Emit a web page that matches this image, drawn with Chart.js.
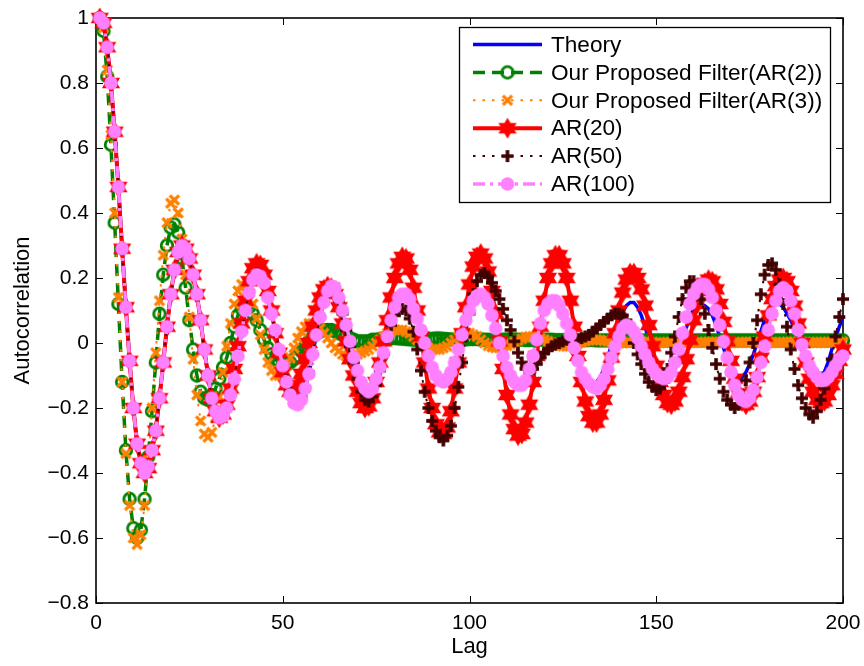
<!DOCTYPE html>
<html>
<head>
<meta charset="utf-8">
<title>Autocorrelation vs Lag</title>
<script src="https://cdn.jsdelivr.net/npm/chart.js"></script>
<style>
  html, body { margin: 0; padding: 0; background: #fff; }
  #wrap { width: 864px; height: 666px; }
</style>
</head>
<body>
<div id="wrap"><canvas id="acf" width="864" height="666"></canvas></div>
<script>
// lag index 1..200 (x positions of every sample)
const lags = [];
for (let i = 1; i <= 200; i++) lags.push(i);

const xTicks = [0, 50, 100, 150, 200];
const yTicks = [-0.8, -0.6, -0.4, -0.2, 0, 0.2, 0.4, 0.6, 0.8, 1];

const legendLabels = ['Theory', 'Our Proposed Filter(AR(2))', 'Our Proposed Filter(AR(3))',
                      'AR(20)', 'AR(50)', 'AR(100)'];

// values, lag 1..200
const theory = [
  1.0, 0.985, 0.91, 0.80, 0.65, 0.48, 0.29, 0.11, -0.055, -0.20,
  -0.31, -0.37, -0.40, -0.38, -0.33, -0.27, -0.17, -0.06, 0.05, 0.15,
  0.225, 0.28, 0.30, 0.29, 0.26, 0.21, 0.15, 0.07, -0.02, -0.10,
  -0.17, -0.21, -0.23, -0.225, -0.20, -0.16, -0.11, -0.04, 0.035, 0.10,
  0.155, 0.195, 0.21, 0.205, 0.185, 0.14, 0.09, 0.04, -0.02, -0.07,
  -0.12, -0.16, -0.185, -0.19, -0.175, -0.14, -0.095, -0.035, 0.025, 0.08,
  0.125, 0.16, 0.175, 0.17, 0.14, 0.10, 0.055, 0.005, -0.045, -0.085,
  -0.12, -0.14, -0.15, -0.14, -0.11, -0.075, -0.03, 0.02, 0.07, 0.11,
  0.14, 0.15, 0.15, 0.135, 0.105, 0.075, 0.04, 0.0, -0.04, -0.075,
  -0.10, -0.115, -0.12, -0.11, -0.09, -0.06, -0.02, 0.025, 0.07, 0.10,
  0.13, 0.145, 0.15, 0.14, 0.12, 0.085, 0.045, 0.0, -0.04, -0.075,
  -0.10, -0.12, -0.13, -0.13, -0.115, -0.08, -0.04, 0.01, 0.06, 0.10,
  0.12, 0.13, 0.13, 0.115, 0.09, 0.06, 0.025, -0.015, -0.055, -0.09,
  -0.11, -0.12, -0.125, -0.12, -0.105, -0.08, -0.045, -0.005, 0.035, 0.07,
  0.095, 0.115, 0.125, 0.125, 0.11, 0.085, 0.05, 0.01, -0.03, -0.065,
  -0.09, -0.105, -0.105, -0.095, -0.08, -0.05, -0.005, 0.045, 0.08, 0.105,
  0.115, 0.12, 0.115, 0.105, 0.085, 0.055, 0.02, -0.015, -0.05, -0.075,
  -0.095, -0.105, -0.105, -0.09, -0.065, -0.035, 0.0, 0.035, 0.07, 0.095,
  0.11, 0.12, 0.12, 0.11, 0.09, 0.07, 0.045, 0.015, -0.02, -0.045,
  -0.065, -0.08, -0.09, -0.095, -0.09, -0.06, -0.02, 0.015, 0.05, 0.08
];

const filterAR2 = [
  1.0, 0.96, 0.82, 0.61, 0.37, 0.12, -0.12, -0.33, -0.48, -0.57,
  -0.60, -0.575, -0.48, -0.35, -0.21, -0.06, 0.09, 0.21, 0.30, 0.355,
  0.365, 0.34, 0.26, 0.17, 0.07, -0.02, -0.10, -0.15, -0.17, -0.175,
  -0.16, -0.14, -0.11, -0.075, -0.045, 0.0, 0.05, 0.085, 0.105, 0.115,
  0.11, 0.09, 0.07, 0.04, 0.01, -0.015, -0.035, -0.05, -0.06, -0.065,
  -0.065, -0.06, -0.05, -0.04, -0.025, -0.01, 0.005, 0.02, 0.03, 0.035,
  0.04, 0.04, 0.04, 0.035, 0.03, 0.025, 0.02, 0.015, 0.01, 0.005,
  0.005, 0.005, 0.005, 0.01, 0.01, 0.012, 0.014, 0.015, 0.015, 0.015,
  0.014, 0.013, 0.012, 0.011, 0.01, 0.01, 0.01, 0.011, 0.012, 0.013,
  0.014, 0.014, 0.013, 0.012, 0.011, 0.01, 0.01, 0.01, 0.011, 0.012,
  0.012, 0.012, 0.011, 0.01, 0.01, 0.009, 0.009, 0.01, 0.01, 0.011,
  0.011, 0.011, 0.01, 0.01, 0.009, 0.009, 0.009, 0.01, 0.01, 0.01,
  0.01, 0.01, 0.009, 0.009, 0.009, 0.009, 0.009, 0.009, 0.009, 0.009,
  0.009, 0.009, 0.009, 0.008, 0.008, 0.008, 0.008, 0.008, 0.008, 0.008,
  0.008, 0.008, 0.008, 0.008, 0.008, 0.008, 0.008, 0.008, 0.008, 0.008,
  0.008, 0.008, 0.008, 0.008, 0.008, 0.008, 0.008, 0.008, 0.008, 0.008,
  0.008, 0.008, 0.008, 0.008, 0.008, 0.008, 0.008, 0.008, 0.008, 0.008,
  0.008, 0.008, 0.008, 0.008, 0.008, 0.008, 0.008, 0.008, 0.008, 0.008,
  0.008, 0.008, 0.008, 0.008, 0.008, 0.008, 0.008, 0.008, 0.008, 0.008,
  0.008, 0.008, 0.008, 0.008, 0.008, 0.008, 0.008, 0.008, 0.008, 0.008
];

const filterAR3 = [
  1.0, 0.97, 0.84, 0.64, 0.40, 0.14, -0.12, -0.34, -0.50, -0.60,
  -0.62, -0.59, -0.50, -0.36, -0.20, -0.03, 0.13, 0.27, 0.37, 0.43,
  0.44, 0.40, 0.32, 0.21, 0.08, -0.05, -0.16, -0.24, -0.28, -0.29,
  -0.275, -0.23, -0.165, -0.09, -0.01, 0.06, 0.12, 0.16, 0.18, 0.175,
  0.155, 0.12, 0.075, 0.025, -0.02, -0.06, -0.085, -0.10, -0.10, -0.09,
  -0.07, -0.045, -0.015, 0.015, 0.035, 0.05, 0.06, 0.06, 0.055, 0.045,
  0.03, 0.015, 0.0, -0.015, -0.025, -0.035, -0.04, -0.04, -0.04, -0.035,
  -0.03, -0.025, -0.02, -0.01, 0.0, 0.01, 0.02, 0.03, 0.035, 0.04,
  0.04, 0.04, 0.035, 0.03, 0.02, 0.01, 0.0, -0.01, -0.015, -0.02,
  -0.02, -0.02, -0.015, -0.01, 0.0, 0.01, 0.02, 0.025, 0.03, 0.03,
  0.025, 0.02, 0.01, 0.0, -0.008, -0.012, -0.015, -0.015, -0.012, -0.008,
  -0.004, 0.002, 0.008, 0.013, 0.018, 0.02, 0.02, 0.018, 0.014, 0.01,
  0.005, 0.0, -0.004, -0.008, -0.01, -0.01, -0.008, -0.005, -0.002, 0.002,
  0.005, 0.008, 0.01, 0.01, 0.009, 0.007, 0.005, 0.003, 0.001, 0.0,
  0.0, 0.001, 0.002, 0.003, 0.004, 0.004, 0.004, 0.003, 0.002, 0.001,
  0.001, 0.001, 0.002, 0.003, 0.003, 0.003, 0.003, 0.002, 0.002, 0.002,
  0.002, 0.002, 0.003, 0.003, 0.003, 0.003, 0.002, 0.002, 0.002, 0.002,
  0.002, 0.002, 0.002, 0.003, 0.003, 0.003, 0.003, 0.002, 0.002, 0.002,
  0.002, 0.002, 0.002, 0.002, 0.003, 0.003, 0.003, 0.003, 0.002, 0.002,
  0.002, 0.002, 0.002, 0.002, 0.002, 0.003, 0.003, 0.003, 0.003, 0.003
];

const ar20 = [
  1.0, 0.985, 0.91, 0.80, 0.65, 0.48, 0.29, 0.11, -0.055, -0.20,
  -0.31, -0.37, -0.40, -0.385, -0.33, -0.27, -0.17, -0.06, 0.05, 0.15,
  0.225, 0.28, 0.30, 0.29, 0.26, 0.21, 0.15, 0.07, -0.02, -0.10,
  -0.17, -0.21, -0.23, -0.22, -0.19, -0.14, -0.08, -0.01, 0.06, 0.13,
  0.19, 0.23, 0.245, 0.24, 0.21, 0.16, 0.10, 0.03, -0.03, -0.09,
  -0.13, -0.15, -0.15, -0.13, -0.095, -0.05, 0.0, 0.05, 0.10, 0.14,
  0.165, 0.175, 0.17, 0.15, 0.11, 0.06, 0.005, -0.05, -0.10, -0.15,
  -0.185, -0.20, -0.195, -0.17, -0.12, -0.06, 0.005, 0.07, 0.14, 0.20,
  0.245, 0.265, 0.26, 0.225, 0.17, 0.10, 0.02, -0.06, -0.14, -0.20,
  -0.25, -0.275, -0.28, -0.26, -0.21, -0.14, -0.06, 0.03, 0.11, 0.18,
  0.235, 0.265, 0.275, 0.26, 0.22, 0.16, 0.09, 0.005, -0.08, -0.16,
  -0.22, -0.265, -0.285, -0.28, -0.245, -0.19, -0.12, -0.04, 0.05, 0.13,
  0.20, 0.245, 0.27, 0.27, 0.245, 0.20, 0.13, 0.05, -0.04, -0.12,
  -0.18, -0.225, -0.245, -0.245, -0.22, -0.175, -0.115, -0.045, 0.03, 0.10,
  0.155, 0.195, 0.215, 0.215, 0.20, 0.165, 0.115, 0.055, -0.01, -0.07,
  -0.12, -0.16, -0.185, -0.19, -0.18, -0.15, -0.105, -0.05, 0.01, 0.07,
  0.12, 0.16, 0.185, 0.195, 0.19, 0.165, 0.12, 0.065, 0.005, -0.055,
  -0.11, -0.155, -0.18, -0.19, -0.18, -0.15, -0.105, -0.045, 0.02, 0.085,
  0.135, 0.175, 0.195, 0.20, 0.19, 0.16, 0.115, 0.06, 0.0, -0.06,
  -0.11, -0.15, -0.175, -0.185, -0.18, -0.16, -0.13, -0.095, -0.055, -0.02
];

const ar50 = [
  1.0, 0.985, 0.91, 0.80, 0.65, 0.48, 0.29, 0.11, -0.055, -0.20,
  -0.31, -0.37, -0.40, -0.38, -0.33, -0.27, -0.17, -0.06, 0.05, 0.15,
  0.225, 0.28, 0.30, 0.29, 0.26, 0.21, 0.15, 0.07, -0.02, -0.10,
  -0.17, -0.21, -0.23, -0.225, -0.20, -0.16, -0.11, -0.04, 0.035, 0.10,
  0.16, 0.20, 0.215, 0.21, 0.185, 0.14, 0.09, 0.035, -0.02, -0.07,
  -0.115, -0.15, -0.175, -0.18, -0.165, -0.135, -0.09, -0.035, 0.025, 0.08,
  0.125, 0.155, 0.17, 0.16, 0.13, 0.09, 0.04, -0.01, -0.06, -0.11,
  -0.15, -0.175, -0.18, -0.165, -0.13, -0.085, -0.035, 0.015, 0.055, 0.085,
  0.10, 0.105, 0.10, 0.075, 0.035, -0.02, -0.085, -0.15, -0.20, -0.24,
  -0.27, -0.29, -0.30, -0.285, -0.255, -0.20, -0.135, -0.06, 0.02, 0.09,
  0.15, 0.19, 0.21, 0.215, 0.205, 0.185, 0.16, 0.135, 0.105, 0.07,
  0.04, 0.005, -0.03, -0.06, -0.08, -0.085, -0.08, -0.065, -0.045, -0.03,
  -0.02, -0.01, -0.005, 0.0, 0.005, 0.01, 0.01, 0.01, 0.01, 0.015,
  0.02, 0.025, 0.035, 0.045, 0.055, 0.065, 0.075, 0.085, 0.09, 0.09,
  0.085, 0.07, 0.04, 0.0, -0.035, -0.065, -0.095, -0.12, -0.135, -0.145,
  -0.14, -0.12, -0.08, -0.03, 0.02, 0.08, 0.135, 0.17, 0.19, 0.19,
  0.17, 0.135, 0.09, 0.04, -0.015, -0.065, -0.11, -0.15, -0.175, -0.19,
  -0.20, -0.19, -0.16, -0.115, -0.06, 0.0, 0.07, 0.15, 0.21, 0.24,
  0.245, 0.225, 0.18, 0.12, 0.05, -0.02, -0.08, -0.13, -0.17, -0.20,
  -0.22, -0.23, -0.21, -0.175, -0.14, -0.10, -0.05, 0.02, 0.08, 0.135
];

const ar100 = [
  1.0, 0.985, 0.91, 0.80, 0.65, 0.48, 0.29, 0.11, -0.055, -0.20,
  -0.31, -0.37, -0.40, -0.38, -0.33, -0.27, -0.17, -0.06, 0.05, 0.15,
  0.225, 0.28, 0.30, 0.29, 0.26, 0.21, 0.15, 0.07, -0.02, -0.10,
  -0.17, -0.21, -0.23, -0.225, -0.20, -0.16, -0.11, -0.04, 0.035, 0.10,
  0.155, 0.195, 0.21, 0.205, 0.185, 0.14, 0.09, 0.04, -0.02, -0.07,
  -0.12, -0.16, -0.185, -0.19, -0.175, -0.14, -0.095, -0.035, 0.025, 0.08,
  0.125, 0.16, 0.175, 0.17, 0.14, 0.10, 0.055, 0.005, -0.045, -0.085,
  -0.12, -0.14, -0.15, -0.14, -0.11, -0.075, -0.03, 0.02, 0.07, 0.11,
  0.14, 0.15, 0.15, 0.135, 0.105, 0.075, 0.04, 0.0, -0.04, -0.075,
  -0.10, -0.115, -0.12, -0.11, -0.09, -0.06, -0.02, 0.025, 0.07, 0.10,
  0.13, 0.145, 0.15, 0.14, 0.12, 0.085, 0.045, 0.0, -0.04, -0.075,
  -0.10, -0.12, -0.13, -0.13, -0.115, -0.08, -0.04, 0.01, 0.06, 0.10,
  0.12, 0.13, 0.13, 0.115, 0.09, 0.06, 0.025, -0.015, -0.055, -0.09,
  -0.11, -0.125, -0.135, -0.14, -0.13, -0.11, -0.08, -0.045, -0.01, 0.02,
  0.045, 0.055, 0.05, 0.035, 0.015, -0.01, -0.035, -0.06, -0.08, -0.095,
  -0.105, -0.11, -0.105, -0.09, -0.06, -0.02, 0.03, 0.08, 0.12, 0.15,
  0.17, 0.18, 0.18, 0.165, 0.14, 0.10, 0.055, 0.005, -0.045, -0.09,
  -0.13, -0.16, -0.175, -0.18, -0.17, -0.145, -0.105, -0.06, -0.01, 0.04,
  0.09, 0.13, 0.16, 0.17, 0.16, 0.13, 0.09, 0.04, -0.005, -0.04,
  -0.07, -0.09, -0.105, -0.115, -0.115, -0.105, -0.09, -0.07, -0.05, -0.04
];

const FONT = '"Liberation Sans", Arial, Helvetica, sans-serif';

// MATLAB-like markers, pre-drawn once
function makeMarker(kind, color) {
  const c = document.createElement('canvas');
  c.width = c.height = 24;
  const g = c.getContext('2d');
  const m = 12;
  g.fillStyle = color;
  g.strokeStyle = color;
  g.beginPath();
  if (kind === 'ring') {
    g.lineWidth = 2.8;
    g.arc(m, m, 5.8, 0, Math.PI * 2);
    g.stroke();
  } else if (kind === 'x') {
    const d = 4.6;
    g.lineWidth = 3.4;
    g.moveTo(m - d, m - d); g.lineTo(m + d, m + d);
    g.moveTo(m + d, m - d); g.lineTo(m - d, m + d);
    g.stroke();
  } else if (kind === 'plus') {
    const d = 6;
    g.lineWidth = 3.6;
    g.moveTo(m - d, m); g.lineTo(m + d, m);
    g.moveTo(m, m - d); g.lineTo(m, m + d);
    g.stroke();
  } else if (kind === 'hexagram') {
    const R = 10.5, r = R / Math.sqrt(3);
    for (let k = 0; k < 12; k++) {
      const a = -Math.PI / 2 + k * Math.PI / 6;
      const rr = k % 2 ? r : R;
      const px = m + rr * Math.cos(a), py = m + rr * Math.sin(a);
      if (k === 0) g.moveTo(px, py); else g.lineTo(px, py);
    }
    g.closePath();
    g.fill();
  } else if (kind === 'dot') {
    g.arc(m, m, 6.8, 0, Math.PI * 2);
    g.fill();
  }
  return c;
}

const styles = [
  { color: '#0000ff', width: 3.5, dash: [], marker: null },
  { color: '#008000', width: 3.5, dash: [12, 7], marker: makeMarker('ring', '#008000') },
  { color: '#ff8000', width: 2, dash: [2.5, 7], marker: makeMarker('x', '#ff8000') },
  { color: '#ff0000', width: 4, dash: [], marker: makeMarker('hexagram', '#ff0000') },
  { color: '#400000', width: 2, dash: [2.5, 7], marker: makeMarker('plus', '#400000') },
  { color: '#ff80ff', width: 3.5, dash: [12, 5, 3, 5], marker: makeMarker('dot', '#ff80ff') }
];

const values = [theory, filterAR2, filterAR3, ar20, ar50, ar100];

const datasets = values.map((vals, k) => ({
  label: legendLabels[k],
  data: vals.map((v, i) => ({ x: lags[i], y: v })),
  borderColor: styles[k].color,
  backgroundColor: styles[k].color,
  borderWidth: styles[k].width,
  borderDash: styles[k].dash,
  pointStyle: styles[k].marker || 'circle',
  pointRadius: styles[k].marker ? 7 : 0,
  pointHoverRadius: styles[k].marker ? 7 : 0,
  tension: 0,
  fill: false,
  clip: false,
  order: 6 - k   // later series painted on top, like MATLAB
}));

// box with inward ticks on all four sides
const axesBox = {
  id: 'axesBox',
  beforeDatasetsDraw(chart) {
    const { ctx, chartArea: a, scales: { x, y } } = chart;
    ctx.save();
    ctx.strokeStyle = '#000';
    ctx.lineWidth = 1;
    ctx.beginPath();
    xTicks.forEach(v => {
      const px = Math.round(x.getPixelForValue(v)) + 0.5;
      ctx.moveTo(px, a.bottom); ctx.lineTo(px, a.bottom - 7);
      ctx.moveTo(px, a.top); ctx.lineTo(px, a.top + 7);
    });
    yTicks.forEach(v => {
      const py = Math.round(y.getPixelForValue(v)) + 0.5;
      ctx.moveTo(a.left, py); ctx.lineTo(a.left + 7, py);
      ctx.moveTo(a.right, py); ctx.lineTo(a.right - 7, py);
    });
    ctx.stroke();
    ctx.lineWidth = 1.6;
    ctx.strokeRect(a.left, a.top, a.right - a.left, a.bottom - a.top);
    ctx.restore();
  }
};

// MATLAB style legend box, top right
const matLegend = {
  id: 'matLegend',
  afterDraw(chart) {
    const ctx = chart.ctx;
    const bx = 459, by = 27, bw = 371, bh = 175;
    ctx.save();
    ctx.fillStyle = '#fff';
    ctx.fillRect(bx, by, bw, bh);
    ctx.strokeStyle = '#000';
    ctx.lineWidth = 1.3;
    ctx.strokeRect(bx + 0.5, by + 0.5, bw, bh);
    ctx.font = '22.6px ' + FONT;
    ctx.textBaseline = 'middle';
    ctx.textAlign = 'left';
    legendLabels.forEach((lab, k) => {
      const s = styles[k];
      const cy = 44.5 + k * 27.9;
      ctx.strokeStyle = s.color;
      ctx.lineWidth = s.width;
      ctx.setLineDash(s.dash);
      ctx.beginPath();
      ctx.moveTo(473, cy); ctx.lineTo(542, cy);
      ctx.stroke();
      ctx.setLineDash([]);
      if (s.marker) ctx.drawImage(s.marker, 507.5 - 12, cy - 12);
      ctx.fillStyle = '#000';
      ctx.fillText(lab, 551, cy + 1);
    });
    ctx.restore();
  }
};

function fmt(v) {
  const r = Math.round(v * 10) / 10;
  return r < 0 ? '\u2212' + Math.abs(r) : String(r);
}

new Chart(document.getElementById('acf'), {
  type: 'line',
  data: { datasets },
  options: {
    responsive: false,
    animation: false,
    events: [],
    layout: { autoPadding: false, padding: { top: 18, right: 21, left: 0, bottom: 0 } },
    plugins: { legend: { display: false }, tooltip: { enabled: false } },
    scales: {
      x: {
        type: 'linear', min: 0, max: 200,
        grid: { display: false, drawTicks: false },
        border: { display: false },
        afterBuildTicks: s => { s.ticks = xTicks.map(v => ({ value: v })); },
        afterFit: s => { s.height = 63; s.paddingLeft = 0; s.paddingRight = 0; },
        ticks: { color: '#000', font: { family: FONT, size: 21 }, padding: 8, maxRotation: 0 },
        title: { display: true, text: 'Lag', color: '#000', font: { family: FONT, size: 22 },
                 padding: { top: 0, bottom: 6 } }
      },
      y: {
        type: 'linear', min: -0.8, max: 1,
        grid: { display: false, drawTicks: false },
        border: { display: false },
        afterBuildTicks: s => { s.ticks = yTicks.map(v => ({ value: v })); },
        afterFit: s => { s.width = 96; s.paddingTop = 0; s.paddingBottom = 0; },
        ticks: { color: '#000', font: { family: FONT, size: 21 }, padding: 7, callback: fmt },
        title: { display: true, text: 'Autocorrelation', color: '#000', font: { family: FONT, size: 22 },
                 padding: { top: 10, bottom: 0 } }
      }
    }
  },
  plugins: [axesBox, matLegend]
});
</script>
</body>
</html>
